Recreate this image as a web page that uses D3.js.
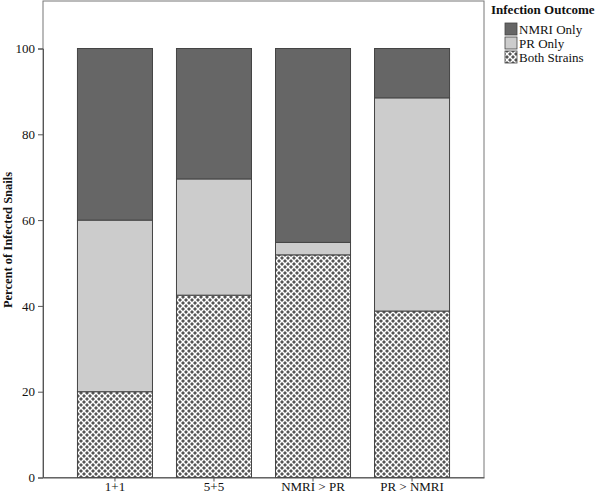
<!DOCTYPE html>
<html><head><meta charset="utf-8">
<script src="https://cdn.jsdelivr.net/npm/d3@7"></script>
<style>body{margin:0;background:#fff}svg{display:block}text{font-family:"Liberation Serif","Times New Roman",serif}</style>
</head><body><svg id="c" width="600" height="496"></svg>
<script>
const categories = ["1+1","5+5","NMRI > PR","PR > NMRI"];
const bothStrains = [20, 42.5, 51.9, 38.8];
const prOnly = [40, 27.1, 2.9, 49.7];
const nmriOnly = [40, 30.4, 45.2, 11.5];
const seriesNames = ["NMRI Only","PR Only","Both Strains"];
const yTicks = [0,20,40,60,80,100];

const svg = d3.select("#c");
const L = 43, R = 484, T = 1, B = 477.5;
const defs = svg.append("defs");
const pat = defs.append("pattern").attr("id","hatch").attr("patternUnits","userSpaceOnUse")
  .attr("width",6).attr("height",6);
pat.append("rect").attr("width",6).attr("height",6).attr("fill","#fff");
[[0,0],[6,0],[0,6],[6,6],[3,3]].forEach(([cx,cy])=>{
  pat.append("path").attr("d",`M${cx-2},${cy}L${cx},${cy-2}L${cx+2},${cy}L${cx},${cy+2}Z`).attr("fill","#555");
});

const x = d3.scaleBand().domain(categories).range([L,R]).paddingInner(0.2424).paddingOuter(0.348);
const y = d3.scaleLinear().domain([0,100]).range([B, B - 100*4.29]);

const data = categories.map((c,i)=>({cat:c, "Both Strains":bothStrains[i], "PR Only":prOnly[i], "NMRI Only":nmriOnly[i]}));
const stack = d3.stack().keys(["Both Strains","PR Only","NMRI Only"])(data);
const fills = {"NMRI Only":"#666666","PR Only":"#cccccc","Both Strains":"url(#hatch)"};

svg.append("rect").attr("x",L).attr("y",T).attr("width",R-L).attr("height",B-T)
  .attr("fill","none").attr("stroke","#777").attr("stroke-width",1);

stack.forEach(s=>{
  svg.append("g").selectAll("rect").data(s).join("rect")
    .attr("x",d=>x(d.data.cat)).attr("width",x.bandwidth())
    .attr("y",d=>y(d[1])).attr("height",d=>y(d[0])-y(d[1]))
    .attr("fill",fills[s.key]).attr("stroke","#444").attr("stroke-width",1);
});

const ya = svg.append("g").attr("transform",`translate(${L},0)`)
  .call(d3.axisLeft(y).tickValues(yTicks).tickSize(5).tickPadding(3));
const xa = svg.append("g").attr("transform",`translate(0,${B})`)
  .call(d3.axisBottom(x).tickSize(4).tickPadding(1).tickSizeOuter(0));
[ya,xa].forEach(a=>{
  a.select(".domain").attr("stroke","#555");
  a.selectAll(".tick line").attr("stroke","#555");
  a.selectAll("text").attr("font-size",13).attr("fill","#111").style("font-family","Liberation Serif");
});
xa.selectAll("text").attr("dy","0.62em");

svg.append("text").attr("transform","translate(12,240) rotate(-90)").attr("text-anchor","middle")
  .attr("font-size",12.5).attr("font-weight","bold").attr("fill","#111").text("Percent of Infected Snails");

svg.append("text").attr("x",491).attr("y",14).attr("font-size",13).attr("font-weight","bold")
  .attr("fill","#111").text("Infection Outcome");
seriesNames.forEach((n,i)=>{
  const yy = 23 + i*14;
  svg.append("rect").attr("x",505).attr("y",yy).attr("width",12).attr("height",12)
    .attr("fill",fills[n]).attr("stroke","#444").attr("stroke-width",0.8);
  svg.append("text").attr("x",519).attr("y",yy+10.5).attr("font-size",13).attr("fill","#111").text(n);
});
</script></body></html>
